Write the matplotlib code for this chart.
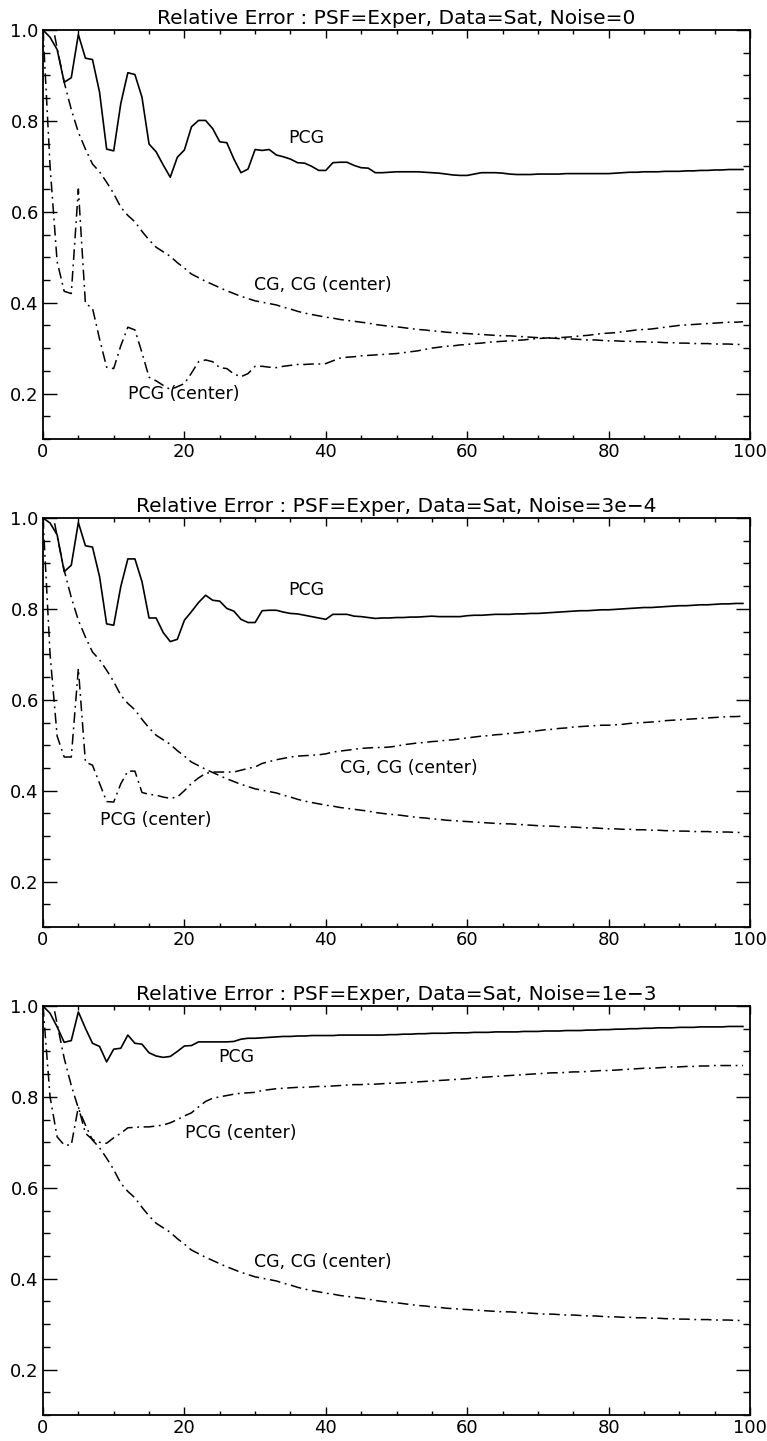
import matplotlib
matplotlib.use("Agg")
import matplotlib.pyplot as plt
from matplotlib.ticker import MultipleLocator

iterations = list(range(100))

# CG and CG (center) (same in all three panels)
cg = [1.000, 1.040, 0.960, 0.885, 0.825, 0.775, 0.738, 0.705, 0.688, 0.665,
      0.640, 0.610, 0.592, 0.578, 0.557, 0.538, 0.522, 0.512, 0.502, 0.488,
      0.476, 0.463, 0.455, 0.447, 0.440, 0.433, 0.426, 0.420, 0.414, 0.409,
      0.404, 0.401, 0.398, 0.395, 0.390, 0.386, 0.381, 0.377, 0.374, 0.371,
      0.368, 0.366, 0.363, 0.361, 0.359, 0.357, 0.355, 0.352, 0.350, 0.348,
      0.347, 0.345, 0.343, 0.341, 0.340, 0.338, 0.337, 0.335, 0.334, 0.333,
      0.332, 0.331, 0.330, 0.329, 0.328, 0.327, 0.327, 0.326, 0.325, 0.324,
      0.323, 0.322, 0.322, 0.321, 0.320, 0.320, 0.319, 0.318, 0.318, 0.317,
      0.316, 0.316, 0.315, 0.315, 0.314, 0.314, 0.313, 0.313, 0.312, 0.312,
      0.311, 0.311, 0.310, 0.310, 0.310, 0.309, 0.309, 0.309, 0.308, 0.308]

# Noise = 0
pcg_n0 = [1.000, 0.984, 0.957, 0.885, 0.895, 0.990, 0.938, 0.935, 0.863, 0.738,
          0.734, 0.838, 0.906, 0.902, 0.852, 0.749, 0.732, 0.703, 0.676, 0.720,
          0.736, 0.787, 0.801, 0.801, 0.783, 0.754, 0.752, 0.716, 0.686, 0.694,
          0.737, 0.735, 0.737, 0.725, 0.721, 0.716, 0.708, 0.707, 0.700, 0.691,
          0.691, 0.708, 0.709, 0.709, 0.702, 0.697, 0.696, 0.686, 0.686, 0.687,
          0.688, 0.688, 0.688, 0.688, 0.687, 0.686, 0.685, 0.683, 0.681, 0.680,
          0.680, 0.683, 0.686, 0.686, 0.686, 0.685, 0.683, 0.682, 0.682, 0.682,
          0.683, 0.683, 0.683, 0.683, 0.684, 0.684, 0.684, 0.684, 0.684, 0.684,
          0.684, 0.685, 0.686, 0.687, 0.687, 0.688, 0.688, 0.688, 0.689, 0.689,
          0.689, 0.690, 0.690, 0.691, 0.691, 0.692, 0.692, 0.693, 0.693, 0.693]
pcgc_n0 = [1.000, 0.700, 0.490, 0.425, 0.420, 0.650, 0.398, 0.388, 0.320, 0.258,
           0.255, 0.305, 0.346, 0.340, 0.290, 0.236, 0.228, 0.218, 0.209, 0.215,
           0.222, 0.245, 0.270, 0.274, 0.270, 0.257, 0.255, 0.243, 0.237, 0.244,
           0.260, 0.260, 0.258, 0.257, 0.260, 0.262, 0.264, 0.264, 0.265, 0.265,
           0.266, 0.272, 0.278, 0.280, 0.281, 0.283, 0.284, 0.285, 0.286, 0.287,
           0.288, 0.290, 0.292, 0.294, 0.297, 0.300, 0.302, 0.304, 0.305, 0.307,
           0.308, 0.310, 0.311, 0.313, 0.314, 0.315, 0.316, 0.317, 0.318, 0.320,
           0.321, 0.322, 0.323, 0.323, 0.324, 0.325, 0.327, 0.328, 0.330, 0.332,
           0.333, 0.334, 0.336, 0.338, 0.340, 0.341, 0.342, 0.344, 0.346, 0.348,
           0.350, 0.351, 0.352, 0.353, 0.354, 0.355, 0.356, 0.357, 0.357, 0.358]

# Noise = 3e-4
pcg_n1 = [1.000, 0.989, 0.963, 0.882, 0.896, 0.990, 0.939, 0.936, 0.871, 0.767,
          0.764, 0.849, 0.910, 0.910, 0.860, 0.780, 0.780, 0.748, 0.728, 0.733,
          0.775, 0.794, 0.814, 0.830, 0.819, 0.817, 0.801, 0.795, 0.777, 0.770,
          0.770, 0.796, 0.797, 0.797, 0.793, 0.790, 0.789, 0.786, 0.783, 0.780,
          0.777, 0.788, 0.788, 0.788, 0.784, 0.783, 0.781, 0.779, 0.780, 0.780,
          0.781, 0.781, 0.782, 0.782, 0.783, 0.784, 0.783, 0.783, 0.783, 0.783,
          0.785, 0.786, 0.786, 0.787, 0.788, 0.788, 0.788, 0.789, 0.789, 0.790,
          0.790, 0.791, 0.792, 0.793, 0.794, 0.795, 0.796, 0.796, 0.797, 0.798,
          0.798, 0.799, 0.800, 0.801, 0.802, 0.803, 0.803, 0.804, 0.805, 0.806,
          0.807, 0.807, 0.808, 0.809, 0.809, 0.810, 0.811, 0.811, 0.812, 0.812]
pcgc_n1 = [1.000, 0.700, 0.520, 0.474, 0.474, 0.669, 0.463, 0.456, 0.416, 0.376,
           0.375, 0.415, 0.443, 0.443, 0.396, 0.392, 0.390, 0.386, 0.383, 0.386,
           0.400, 0.416, 0.428, 0.438, 0.441, 0.441, 0.441, 0.441, 0.445, 0.449,
           0.452, 0.460, 0.464, 0.468, 0.471, 0.474, 0.476, 0.477, 0.478, 0.479,
           0.481, 0.485, 0.487, 0.489, 0.491, 0.493, 0.494, 0.495, 0.495, 0.496,
           0.498, 0.501, 0.503, 0.505, 0.506, 0.508, 0.509, 0.511, 0.512, 0.514,
           0.516, 0.518, 0.520, 0.521, 0.523, 0.524, 0.526, 0.527, 0.529, 0.530,
           0.532, 0.534, 0.535, 0.537, 0.538, 0.540, 0.541, 0.542, 0.543, 0.544,
           0.544, 0.545, 0.546, 0.548, 0.549, 0.550, 0.551, 0.552, 0.554, 0.555,
           0.556, 0.557, 0.558, 0.559, 0.560, 0.561, 0.562, 0.563, 0.563, 0.564]

# Noise = 1e-3
pcg_n2 = [1.000, 0.984, 0.954, 0.920, 0.924, 0.987, 0.951, 0.918, 0.911, 0.877,
          0.905, 0.907, 0.936, 0.918, 0.916, 0.897, 0.890, 0.887, 0.889, 0.900,
          0.912, 0.913, 0.921, 0.921, 0.921, 0.921, 0.921, 0.922, 0.927, 0.929,
          0.929, 0.930, 0.931, 0.932, 0.933, 0.933, 0.934, 0.934, 0.935, 0.935,
          0.935, 0.935, 0.936, 0.936, 0.936, 0.936, 0.936, 0.936, 0.936, 0.937,
          0.937, 0.938, 0.938, 0.939, 0.939, 0.940, 0.940, 0.940, 0.941, 0.941,
          0.941, 0.942, 0.942, 0.942, 0.943, 0.943, 0.943, 0.943, 0.944, 0.944,
          0.944, 0.945, 0.945, 0.945, 0.946, 0.946, 0.946, 0.947, 0.947, 0.948,
          0.948, 0.949, 0.949, 0.950, 0.950, 0.951, 0.951, 0.952, 0.952, 0.952,
          0.953, 0.953, 0.953, 0.954, 0.954, 0.954, 0.954, 0.955, 0.955, 0.955]
pcgc_n2 = [1.000, 0.800, 0.712, 0.694, 0.694, 0.778, 0.720, 0.706, 0.700, 0.698,
           0.710, 0.720, 0.732, 0.733, 0.734, 0.734, 0.736, 0.738, 0.743, 0.750,
           0.758, 0.765, 0.778, 0.790, 0.797, 0.800, 0.803, 0.806, 0.808, 0.809,
           0.810, 0.814, 0.816, 0.818, 0.819, 0.820, 0.821, 0.821, 0.822, 0.823,
           0.823, 0.824, 0.825, 0.826, 0.827, 0.827, 0.828, 0.828, 0.829, 0.830,
           0.830, 0.831, 0.832, 0.833, 0.834, 0.835, 0.836, 0.837, 0.838, 0.839,
           0.840, 0.842, 0.843, 0.844, 0.845, 0.846, 0.847, 0.848, 0.849, 0.850,
           0.851, 0.852, 0.853, 0.853, 0.854, 0.855, 0.855, 0.856, 0.857, 0.858,
           0.858, 0.859, 0.860, 0.861, 0.862, 0.863, 0.863, 0.864, 0.865, 0.866,
           0.866, 0.867, 0.867, 0.868, 0.868, 0.869, 0.869, 0.869, 0.869, 0.869]

titles = ["Relative Error : PSF=Exper, Data=Sat, Noise=0",
          "Relative Error : PSF=Exper, Data=Sat, Noise=3e\u22124",
          "Relative Error : PSF=Exper, Data=Sat, Noise=1e\u22123"]
pcg_series = [pcg_n0, pcg_n1, pcg_n2]
pcgc_series = [pcgc_n0, pcgc_n1, pcgc_n2]
label_text = ["PCG", "CG, CG (center)", "PCG (center)"]
# label anchor positions (data coords) per panel: PCG, CG, PCG(center)
label_pos = [[(37.3, 0.762), (39.6, 0.438), (19.9, 0.200)],
             [(37.3, 0.841), (51.8, 0.449), (16.0, 0.335)],
             [(27.4, 0.888), (39.6, 0.436), (28.0, 0.720)]]

plt.rcParams['font.family'] = ['DejaVu Sans']
fig = plt.figure(figsize=(7.67, 14.41), dpi=100)
W, H = 767.0, 1441.0
left, right = 43 / W, 750 / W
tops = [30, 518, 1006]
ph = 409
dashdot = (0, (7, 3, 1.2, 3))

for i in range(3):
    top = tops[i]
    ax = fig.add_axes([left, 1 - (top + ph) / H, right - left, ph / H])
    ax.plot(iterations, pcg_series[i], color='black', lw=1.2, ls='-')
    ax.plot(iterations, cg, color='black', lw=1.1, ls=dashdot)
    ax.plot(iterations, pcgc_series[i], color='black', lw=1.1, ls=dashdot)
    ax.set_xlim(0, 100)
    ax.set_ylim(0.1, 1.0)
    ax.xaxis.set_major_locator(MultipleLocator(20))
    ax.xaxis.set_minor_locator(MultipleLocator(5))
    ax.yaxis.set_minor_locator(MultipleLocator(0.05))
    ax.set_yticks([0.2, 0.4, 0.6, 0.8, 1.0])
    ax.set_yticklabels(["0.2", "0.4", "0.6", "0.8", "1.0"])
    ax.tick_params(axis='both', which='both', direction='in', top=True, right=True,
                   labelsize=13, width=1.0, pad=3)
    ax.tick_params(axis='y', which='major', length=10)
    ax.tick_params(axis='y', which='minor', length=5)
    ax.tick_params(axis='x', which='major', length=6)
    ax.tick_params(axis='x', which='minor', length=3)
    for s in ax.spines.values():
        s.set_linewidth(1.3)
    ax.set_title(titles[i], fontsize=14.5, pad=4)
    for t, (xx, yy) in zip(label_text, label_pos[i]):
        ax.text(xx, yy, t, fontsize=12.5, ha='center', va='center')

fig.savefig("out.png", dpi=100)
